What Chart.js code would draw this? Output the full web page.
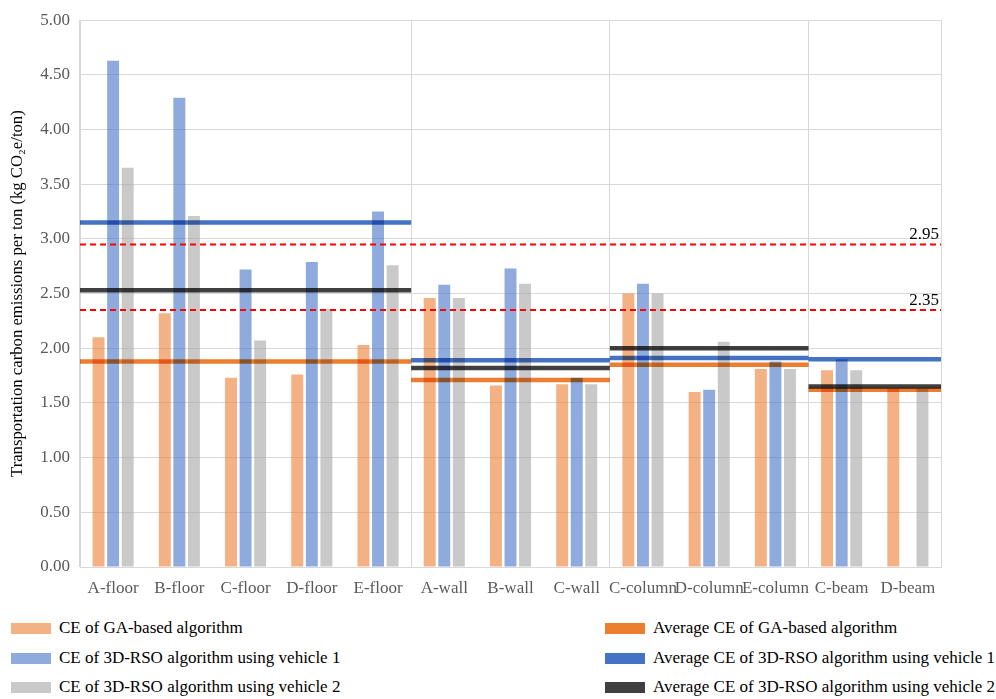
<!DOCTYPE html>
<html>
<head>
<meta charset="utf-8">
<script src="https://cdn.jsdelivr.net/npm/chart.js@4.4.1/dist/chart.umd.min.js"></script>
<style>
  body { margin: 0; background: #fff; }
  #wrap { position: relative; width: 996px; height: 699px; }
  #box { position: absolute; left: 0; top: 0; width: 996px; height: 600px; }
  .leg { position: absolute; font: 17px 'Liberation Serif', serif; color: #000; white-space: nowrap; line-height: 20px; }
  .leg span { display: inline-block; width: 40px; height: 11px; margin-right: 8px; vertical-align: -1px; }
</style>
</head>
<body>
<div id="wrap">
  <div id="box"><canvas id="myChart"></canvas></div>
  <div id="legend"></div>
</div>
<script>
// kategorier
const categories = ['A-floor', 'B-floor', 'C-floor', 'D-floor', 'E-floor', 'A-wall', 'B-wall', 'C-wall',
  'C-column', 'D-column', 'E-column', 'C-beam', 'D-beam'];
// CE per kategori
const gaValues = [2.10, 2.32, 1.73, 1.76, 2.03, 2.46, 1.66, 1.67, 2.50, 1.60, 1.81, 1.80, 1.63];
const v1Values = [4.63, 4.29, 2.72, 2.79, 3.25, 2.58, 2.73, 1.73, 2.59, 1.62, 1.88, 1.90, null];
const v2Values = [3.65, 3.21, 2.07, 2.36, 2.76, 2.46, 2.59, 1.67, 2.50, 2.06, 1.81, 1.80, 1.63];
// grupper (floor, wall, column, beam) och medelvärden
const groupSizes = [5, 3, 3, 2];
const avgGA = [1.88, 1.71, 1.85, 1.62];
const avgV1 = [3.15, 1.89, 1.91, 1.90];
const avgV2 = [2.53, 1.82, 2.00, 1.65];
// referenslinjer
const refLines = [2.95, 2.35];
const yTicks = [0, 0.5, 1, 1.5, 2, 2.5, 3, 3.5, 4, 4.5, 5];

const barSeries = [
  { label: 'CE of GA-based algorithm', values: gaValues, color: 'rgba(237,125,49,0.6)' },
  { label: 'CE of 3D-RSO algorithm using vehicle 1', values: v1Values, color: 'rgba(68,114,196,0.6)' },
  { label: 'CE of 3D-RSO algorithm using vehicle 2', values: v2Values, color: 'rgba(165,165,165,0.6)' }
];
const avgSeries = [
  { label: 'Average CE of GA-based algorithm', values: avgGA, color: '#ED7D31' },
  { label: 'Average CE of 3D-RSO algorithm using vehicle 1', values: avgV1, color: '#4472C4' },
  { label: 'Average CE of 3D-RSO algorithm using vehicle 2', values: avgV2, color: '#404040' }
];

// gruppgränser (index)
const bounds = [0];
groupSizes.forEach(s => bounds.push(bounds[bounds.length - 1] + s));

Chart.defaults.font.family = "'Liberation Serif', 'Times New Roman', serif";
Chart.defaults.font.size = 17;

// medellinjer per grupp + streckade referenslinjer, via chartens skalor
const groupLinesPlugin = {
  id: 'groupLines',
  afterDatasetsDraw(chart) {
    const ctx = chart.ctx;
    const xs = chart.scales.x;
    const ys = chart.scales.y;
    const edge = k => xs.getPixelForValue(k - 0.5);

    ctx.save();
    ctx.globalCompositeOperation = 'multiply';
    ctx.lineWidth = 4.5;
    avgSeries.forEach(s => {
      ctx.strokeStyle = s.color;
      s.values.forEach((v, g) => {
        const y = ys.getPixelForValue(v);
        ctx.beginPath();
        ctx.moveTo(edge(bounds[g]), y);
        ctx.lineTo(edge(bounds[g + 1]), y);
        ctx.stroke();
      });
    });
    ctx.restore();

    ctx.save();
    ctx.strokeStyle = '#FF0000';
    ctx.lineWidth = 2;
    ctx.setLineDash([6, 4]);
    ctx.font = "17px 'Liberation Serif', serif";
    ctx.fillStyle = '#000';
    ctx.textAlign = 'right';
    ctx.textBaseline = 'bottom';
    refLines.forEach(v => {
      const y = ys.getPixelForValue(v);
      const x0 = edge(0);
      const x1 = edge(categories.length);
      ctx.beginPath();
      ctx.moveTo(x0, y);
      ctx.lineTo(x1, y);
      ctx.stroke();
      ctx.fillText(v.toFixed(2), x1 - 2, y - 1);
    });
    ctx.restore();
  }
};

const ctx = document.getElementById('myChart');
const chart = new Chart(ctx, {
  type: 'bar',
  data: {
    labels: categories,
    datasets: barSeries.map(s => ({
      label: s.label, data: s.values, backgroundColor: s.color,
      categoryPercentage: 0.66, barPercentage: 0.82
    }))
  },
  options: {
    responsive: true,
    maintainAspectRatio: false,
    animation: false,
    layout: { padding: { top: 14, right: 55, left: 0, bottom: 0 } },
    plugins: { legend: { display: false }, tooltip: { enabled: false } },
    scales: {
      x: {
        ticks: { color: '#595959', padding: 11, maxRotation: 0, autoSkip: false },
        grid: {
          drawTicks: false,
          color: c => {
            if (c.tick === undefined) return '#D9D9D9';
            return bounds.includes(c.index) ? '#D9D9D9' : 'rgba(0,0,0,0)';
          }
        },
        border: { color: '#D9D9D9' },
        afterFit: s => { s.height = 33; }
      },
      y: {
        min: 0, max: 5,
        afterBuildTicks: s => { s.ticks = yTicks.map(v => ({ value: v })); },
        ticks: { color: '#595959', padding: 10, callback: v => v.toFixed(2) },
        grid: { color: '#D9D9D9', drawTicks: false },
        border: { color: '#D9D9D9' },
        title: {
          display: true, color: '#000', font: { size: 16.7 }, padding: { top: 8, bottom: 0 },
          text: 'Transportation carbon emissions per ton (kg CO\u2082e/ton)'
        },
        afterFit: s => { s.width = 80; }
      }
    }
  },
  plugins: [groupLinesPlugin]
});

// egen legend i två kolumner
const colLeft = [11, 605];
const rowTop = [618, 648, 677];
const legendEl = document.getElementById('legend');
[barSeries, avgSeries].forEach((col, c) => {
  col.forEach((s, r) => {
    const d = document.createElement('div');
    d.className = 'leg';
    d.style.left = colLeft[c] + 'px';
    d.style.top = rowTop[r] + 'px';
    d.innerHTML = '<span style="background:' + s.color + '"></span>' + s.label;
    legendEl.appendChild(d);
  });
});
</script>
</body>
</html>
